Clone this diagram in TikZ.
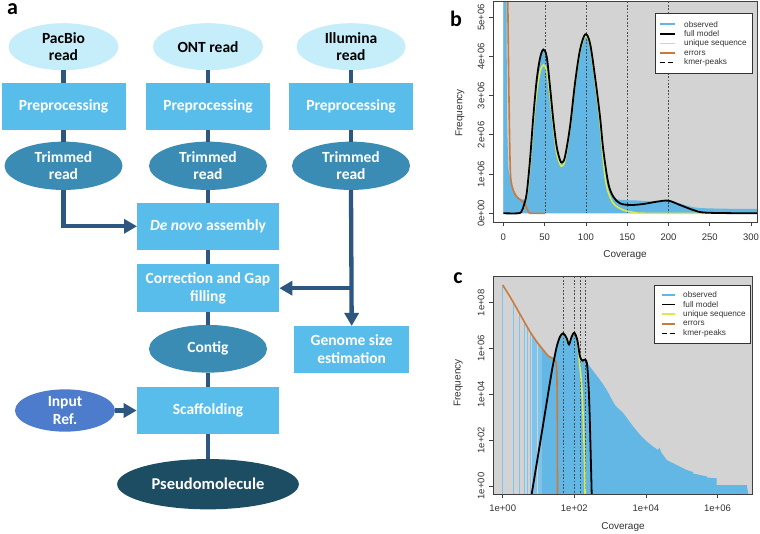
\documentclass[tikz,border=0pt]{standalone}
\usepackage{fontspec}
\setmainfont{Carlito}
\newfontfamily\plotfont{Liberation Sans}
\usetikzlibrary{shapes.geometric,arrows.meta}
\definecolor{cLight}{HTML}{C6EEFA}
\definecolor{cBox}{HTML}{58BDEA}
\definecolor{cMid}{HTML}{3A8CB4}
\definecolor{cRef}{HTML}{4C7CCB}
\definecolor{cDark}{HTML}{1D4D62}
\definecolor{cConn}{HTML}{2D5680}
\definecolor{cBg}{HTML}{D3D3D3}
\definecolor{cObs}{HTML}{62B7E5}
\definecolor{cObsLine}{HTML}{7CC4EC}
\definecolor{cErr}{HTML}{CC7A3A}
\definecolor{cUniq}{HTML}{DDE84C}
\newcommand\flowfont{\bfseries\fontsize{15.5}{17.5}\selectfont}
\tikzset{
  readell/.style={ellipse, fill=cLight, text=black, inner sep=0pt, outer sep=0pt, align=center, font=\flowfont},
  procbox/.style={rectangle, fill=cBox, text=white, inner sep=0pt, outer sep=0pt, align=center, font=\flowfont},
  trimell/.style={ellipse, fill=cMid, text=white, inner sep=0pt, outer sep=0pt, align=center, font=\flowfont},
  refell/.style={ellipse, fill=cRef, text=white, inner sep=0pt, outer sep=0pt, align=center, font=\flowfont},
  finalell/.style={ellipse, fill=cDark, text=white, inner sep=0pt, outer sep=0pt, align=center, font=\bfseries\fontsize{16.5}{18}\selectfont},
  connline/.style={draw=cConn, line width=4.3pt},
  arrowed/.style={-{Triangle[length=13pt,width=14pt]}},
  panellab/.style={font=\bfseries\fontsize{22}{24}\selectfont, inner sep=0pt, anchor=base},
  frameline/.style={draw=black!75, line width=0.8pt},
  ticklab/.style={font=\plotfont\fontsize{9.5}{10}\selectfont, text=black!80, inner sep=0pt},
  axlab/.style={font=\plotfont\fontsize{10}{12}\selectfont, text=black!80, inner sep=0pt},
  legtext/.style={font=\plotfont\fontsize{8.2}{9}\selectfont, text=black!80, inner sep=0pt, anchor=west},
  legbox/.style={draw=black!80, fill=white, line width=0.7pt, inner sep=0pt},
  kpeak/.style={draw=black!70, line width=0.6pt, dash pattern=on 1.8pt off 1.6pt},
  fullcurve/.style={draw=black, line width=1.8pt},
  uniqcurve/.style={draw=cUniq, line width=1.6pt},
  errcurve/.style={draw=cErr, line width=1.6pt},
  obsline/.style={draw=cObsLine, line width=1.1pt},
}
\begin{document}
\begin{tikzpicture}[x=1pt,y=-1pt]
\useasboundingbox (0,0) rectangle (760,534);
\fill[white] (0,0) rectangle (760,534);

% ---------------- panel a ----------------
\node[panellab] (la) at (12.5,15) {a};

\node[readell, minimum width=110pt, minimum height=47pt] (pacbio) at (63.5,46.7) {PacBio\\read};
\node[readell, minimum width=110pt, minimum height=47pt] (ont) at (208,46.7) {ONT read};
\node[readell, minimum width=109pt, minimum height=47pt] (illu) at (351,46.7) {Illumina\\read};

\node[procbox, minimum width=124pt, minimum height=47.3pt] (pre1) at (63.5,106.3) {Preprocessing};
\node[procbox, minimum width=124pt, minimum height=47.3pt] (pre2) at (208,106.3) {Preprocessing};
\node[procbox, minimum width=124pt, minimum height=47.3pt] (pre3) at (351,106.3) {Preprocessing};

\node[trimell, minimum width=118pt, minimum height=48.3pt] (trim1) at (63.5,165.8) {Trimmed\\read};
\node[trimell, minimum width=118pt, minimum height=48.3pt] (trim2) at (208,165.8) {Trimmed\\read};
\node[trimell, minimum width=118pt, minimum height=48.3pt] (trim3) at (351,165.8) {Trimmed\\read};

\node[procbox, minimum width=142pt, minimum height=47.3pt] (denovo) at (208,226.3) {{\itshape De novo} assembly};
\node[procbox, minimum width=142.7pt, minimum height=48.3pt] (corr) at (208,288.2) {Correction and Gap\\filling};
\node[trimell, minimum width=118pt, minimum height=47.7pt] (contig) at (208,348.8) {Contig};
\node[procbox, minimum width=115.3pt, minimum height=46.7pt] (genome) at (351.7,349.3) {Genome size\\estimation};
\node[refell, minimum width=100pt, minimum height=42.3pt] (inref) at (65,410.5) {Input\\Ref.};
\node[procbox, minimum width=142.7pt, minimum height=47.7pt] (scaff) at (208,410.5) {Scaffolding};
\node[finalell, minimum width=181.7pt, minimum height=50.3pt] (pseudo) at (208,484.2) {Pseudomolecule};

\draw[connline] (pacbio) -- (pre1);
\draw[connline] (pre1) -- (trim1);
\draw[connline, arrowed] (trim1.south) |- (denovo.west);
\draw[connline] (ont) -- (pre2);
\draw[connline] (pre2) -- (trim2);
\draw[connline] (trim2) -- (denovo);
\draw[connline] (denovo) -- (corr);
\draw[connline] (corr) -- (contig);
\draw[connline] (contig) -- (scaff);
\draw[connline] (scaff) -- (pseudo);
\draw[connline] (illu) -- (pre3);
\draw[connline] (pre3) -- (trim3);
\draw[connline, arrowed] (trim3.south) -- (genome.north);
\coordinate (branch) at (351,288.2);
\draw[connline, arrowed] (branch) -- (corr.east);
\draw[connline, arrowed] (inref) -- (scaff);

% ---------------- panel b ----------------
\node[panellab] (lb) at (456,26.7) {b};
\fill[cBg] (503.3,1.5) rectangle (757,213.3);
\fill[cObs] (503.3,213.3) -- (503.3,1.5) -- (506.5,1.5) -- (507,120) -- (508.3,168) -- (510.5,181) -- (513.3,192) -- (518.3,197.5) -- (522,199.5)
  -- plot[smooth, tension=0.55] coordinates {(524.5,199.5) (526.7,193.3) (530,160) (533.3,116.7) (536.7,80) (540,58.3) (543.3,49.5) (546.7,56.7) (550,86.7) (553.3,120) (556.7,146.7) (560,160) (562,162.5) (565,156.7) (570,126.7) (575,83.3) (580,50) (585.3,34.3) (590,43.3) (595,76.7) (600,116.7) (603.3,150) (608.3,182) (613.3,195) (618,199.5) (636.7,200.5) (656.7,201.5) (668.3,200) (680,203.5) (700,208) (757,209)}
  -- (757,213.3) -- cycle;
\foreach \xx in {545,586.5,627.5,668.5} \draw[kpeak] (\xx,1.5) -- (\xx,213.3);
\draw[uniqcurve] plot[smooth, tension=0.55] coordinates {(518,213.3) (522,211) (526.7,196) (530,166) (533.3,125) (536.7,92) (540,72) (543.3,65) (546.7,71) (550,96) (553.3,126) (556.7,153) (560,164) (562,166) (565,160) (570,128) (575,85) (580,52) (585.3,36) (590,45) (595,80) (600,123) (603.3,160) (606.7,186.7) (613.3,203.3) (623.3,210) (633.3,212.3) (645,213.3) (710,213.3)};
\draw[errcurve] plot[smooth, tension=0.5] coordinates {(507.8,1.5) (509,100) (510.3,170) (512,186) (515,194) (518.3,198.3) (523.3,202) (526,206) (528,211) (530.5,213.3) (545,213.3)};
\draw[fullcurve] plot[smooth, tension=0.55] coordinates {(503.3,213.3) (518,213.3) (521.5,211.5) (524,205) (526.7,193.3) (530,160) (533.3,116.7) (536.7,80) (540,58.3) (543.3,49.5) (546.7,56.7) (550,86.7) (553.3,120) (556.7,146.7) (560,160) (562,162.5) (565,156.7) (570,126.7) (575,83.3) (580,50) (585.3,34.3) (590,43.3) (595,76.7) (600,116.7) (603.3,150) (608.3,183.3) (613.3,196.7) (620,203.3) (630,205) (643.3,204) (656.7,201.7) (668.3,200.7) (680,205) (693.3,210) (706.7,212.7) (757,213.3)};
\draw[frameline] (493,1.5) rectangle (757,222);
\foreach \yy/\lab [count=\i] in {213.3/0e+00, 174.1/1e+06, 134.9/2e+06, 95.7/3e+06, 56.5/4e+06, 17.3/5e+06} {
  \draw[frameline] (493,\yy) -- (489,\yy);
  \node[ticklab, rotate=90] (by\i) at (481,\yy) {\lab};
}
\foreach \xx/\lab [count=\i] in {503.3/0, 544.6/50, 585.9/100, 627.2/150, 668.5/200, 709.8/250, 751.1/300} {
  \draw[frameline] (\xx,222) -- (\xx,226);
  \node[ticklab] (bx\i) at (\xx,237) {\lab};
}
\node[axlab, rotate=90] (bylab) at (460,113) {Frequency};
\node[axlab] (bxlab) at (625,255) {Coverage};
\node[legbox, minimum width=97pt, minimum height=60pt] (legb) at (703.5,43) {};
\draw[draw=cObs, line width=1.6pt] (660,24.3) -- (675,24.3);
\draw[draw=black, line width=1.6pt] (660,33.9) -- (675,33.9);
\draw[draw=cUniq, line width=1.6pt] (660,43.5) -- (675,43.5);
\draw[draw=cErr, line width=1.6pt] (660,53.1) -- (675,53.1);
\draw[draw=black, line width=1.3pt, dash pattern=on 4.5pt off 3.5pt] (660,62.7) -- (676,62.7);
\node[legtext] (lb1) at (684,24.3) {observed};
\node[legtext] (lb2) at (684,33.9) {full model};
\node[legtext] (lb3) at (684,43.5) {unique sequence};
\node[legtext] (lb4) at (684,53.1) {errors};
\node[legtext] (lb5) at (684,62.7) {kmer-peaks};

% ---------------- panel c ----------------
\node[panellab] (lc) at (458,284) {c};
\fill[cBg] (493,276.5) rectangle (752,494);
\foreach \xx/\tp in {502.7/285, 513.5/302.5, 519.8/313.8, 524.3/321.8, 527.7/327.7, 530.6/332.6, 533/336.5, 535/339.5, 536.9/342, 538.5/344, 540/346.3}
  \draw[obsline] (\xx,494) -- (\xx,\tp);
\fill[cObs] (541.3,494) -- (541.3,348) -- (543.3,350) -- (548.3,356) -- (552.7,358.3) -- (554.5,359)
  -- plot[smooth, tension=0.5] coordinates {(556.7,346.7) (560,336.7) (563.3,333.3) (566.7,338.3) (569,344.5) (571.7,336.7) (574.3,332.7) (577.3,340) (580,356.7) (582.7,360.7) (585.3,359.5) (590,366.7) (600,380) (606.7,390) (615,405) (623.3,413.3) (633.3,426.7) (643.3,438.3) (653.3,446.7) (658,450)}
  -- (659.5,447.5) -- (661,452) -- (666.7,460) -- (676.7,465) -- (686.7,470) -- (693,472) -- (693,473.5) -- (700,475) -- (707,476.5) -- (707,477.5) -- (716.7,478.3) -- (716.7,485) -- (746.7,485) -- (748.3,494) -- cycle;
\foreach \xx in {563.3,574.3,580.7,585.7} \draw[kpeak] (\xx,276.5) -- (\xx,494);
\draw[uniqcurve] plot[smooth, tension=0.5] coordinates {(560,337) (563.3,333.5) (566.7,338.5) (569,344.5) (571.7,337) (574.3,333) (577.3,340) (579.3,360) (581.7,386.7) (583.3,420) (584.5,460) (585,494)};
\draw[errcurve] plot[smooth, tension=0.5] coordinates {(502.7,285) (510,296.7) (516.7,308.3) (523.3,320) (530,331.7) (536.7,341.7) (543.3,350) (548.3,356) (552.7,358.3) (555,360.5) (556.5,366) (557.2,400) (557.5,494)};
\draw[fullcurve] plot[smooth, tension=0.5] coordinates {(531.7,494) (542.5,428.3) (551,376) (553.3,363.3) (556.7,346.7) (560,336.7) (563.3,333.3) (566.7,338.3) (569,344.5) (571.7,336.7) (574.3,332.7) (577.3,340) (580,356.7) (582.7,360.7) (585.3,359.5) (587.3,366.7) (589.3,403.3) (591.7,494)};
\draw[frameline] (493,276.5) rectangle (752,494);
\foreach \yy/\lab [count=\i] in {486/1e+00, 440.2/1e+02, 394.4/1e+04, 348.6/1e+06, 302.8/1e+08} {
  \draw[frameline] (493,\yy) -- (489,\yy);
  \node[ticklab, rotate=90] (cy\i) at (481,\yy) {\lab};
}
\foreach \xx/\lab [count=\i] in {502.7/1e+00, 574.3/1e+02, 645.9/1e+04, 717.5/1e+06} {
  \draw[frameline] (\xx,494) -- (\xx,498);
  \node[ticklab] (cx\i) at (\xx,508.3) {\lab};
}
\node[axlab, rotate=90] (cylab) at (458.3,383) {Frequency};
\node[axlab] (cxlab) at (623,527) {Coverage};
\node[legbox, minimum width=96pt, minimum height=58.3pt] (legc) at (702.5,314.2) {};
\draw[draw=cObs, line width=1.6pt] (662,295) -- (675,295);
\draw[draw=black, line width=1.6pt] (662,304.6) -- (675,304.6);
\draw[draw=cUniq, line width=1.6pt] (662,314.2) -- (675,314.2);
\draw[draw=cErr, line width=1.6pt] (662,323.8) -- (675,323.8);
\draw[draw=black, line width=1.3pt, dash pattern=on 4.5pt off 3.5pt] (662,333.4) -- (677,333.4);
\node[legtext] (lc1) at (683,295) {observed};
\node[legtext] (lc2) at (683,304.6) {full model};
\node[legtext] (lc3) at (683,314.2) {unique sequence};
\node[legtext] (lc4) at (683,323.8) {errors};
\node[legtext] (lc5) at (683,333.4) {kmer-peaks};
\end{tikzpicture}
\end{document}
